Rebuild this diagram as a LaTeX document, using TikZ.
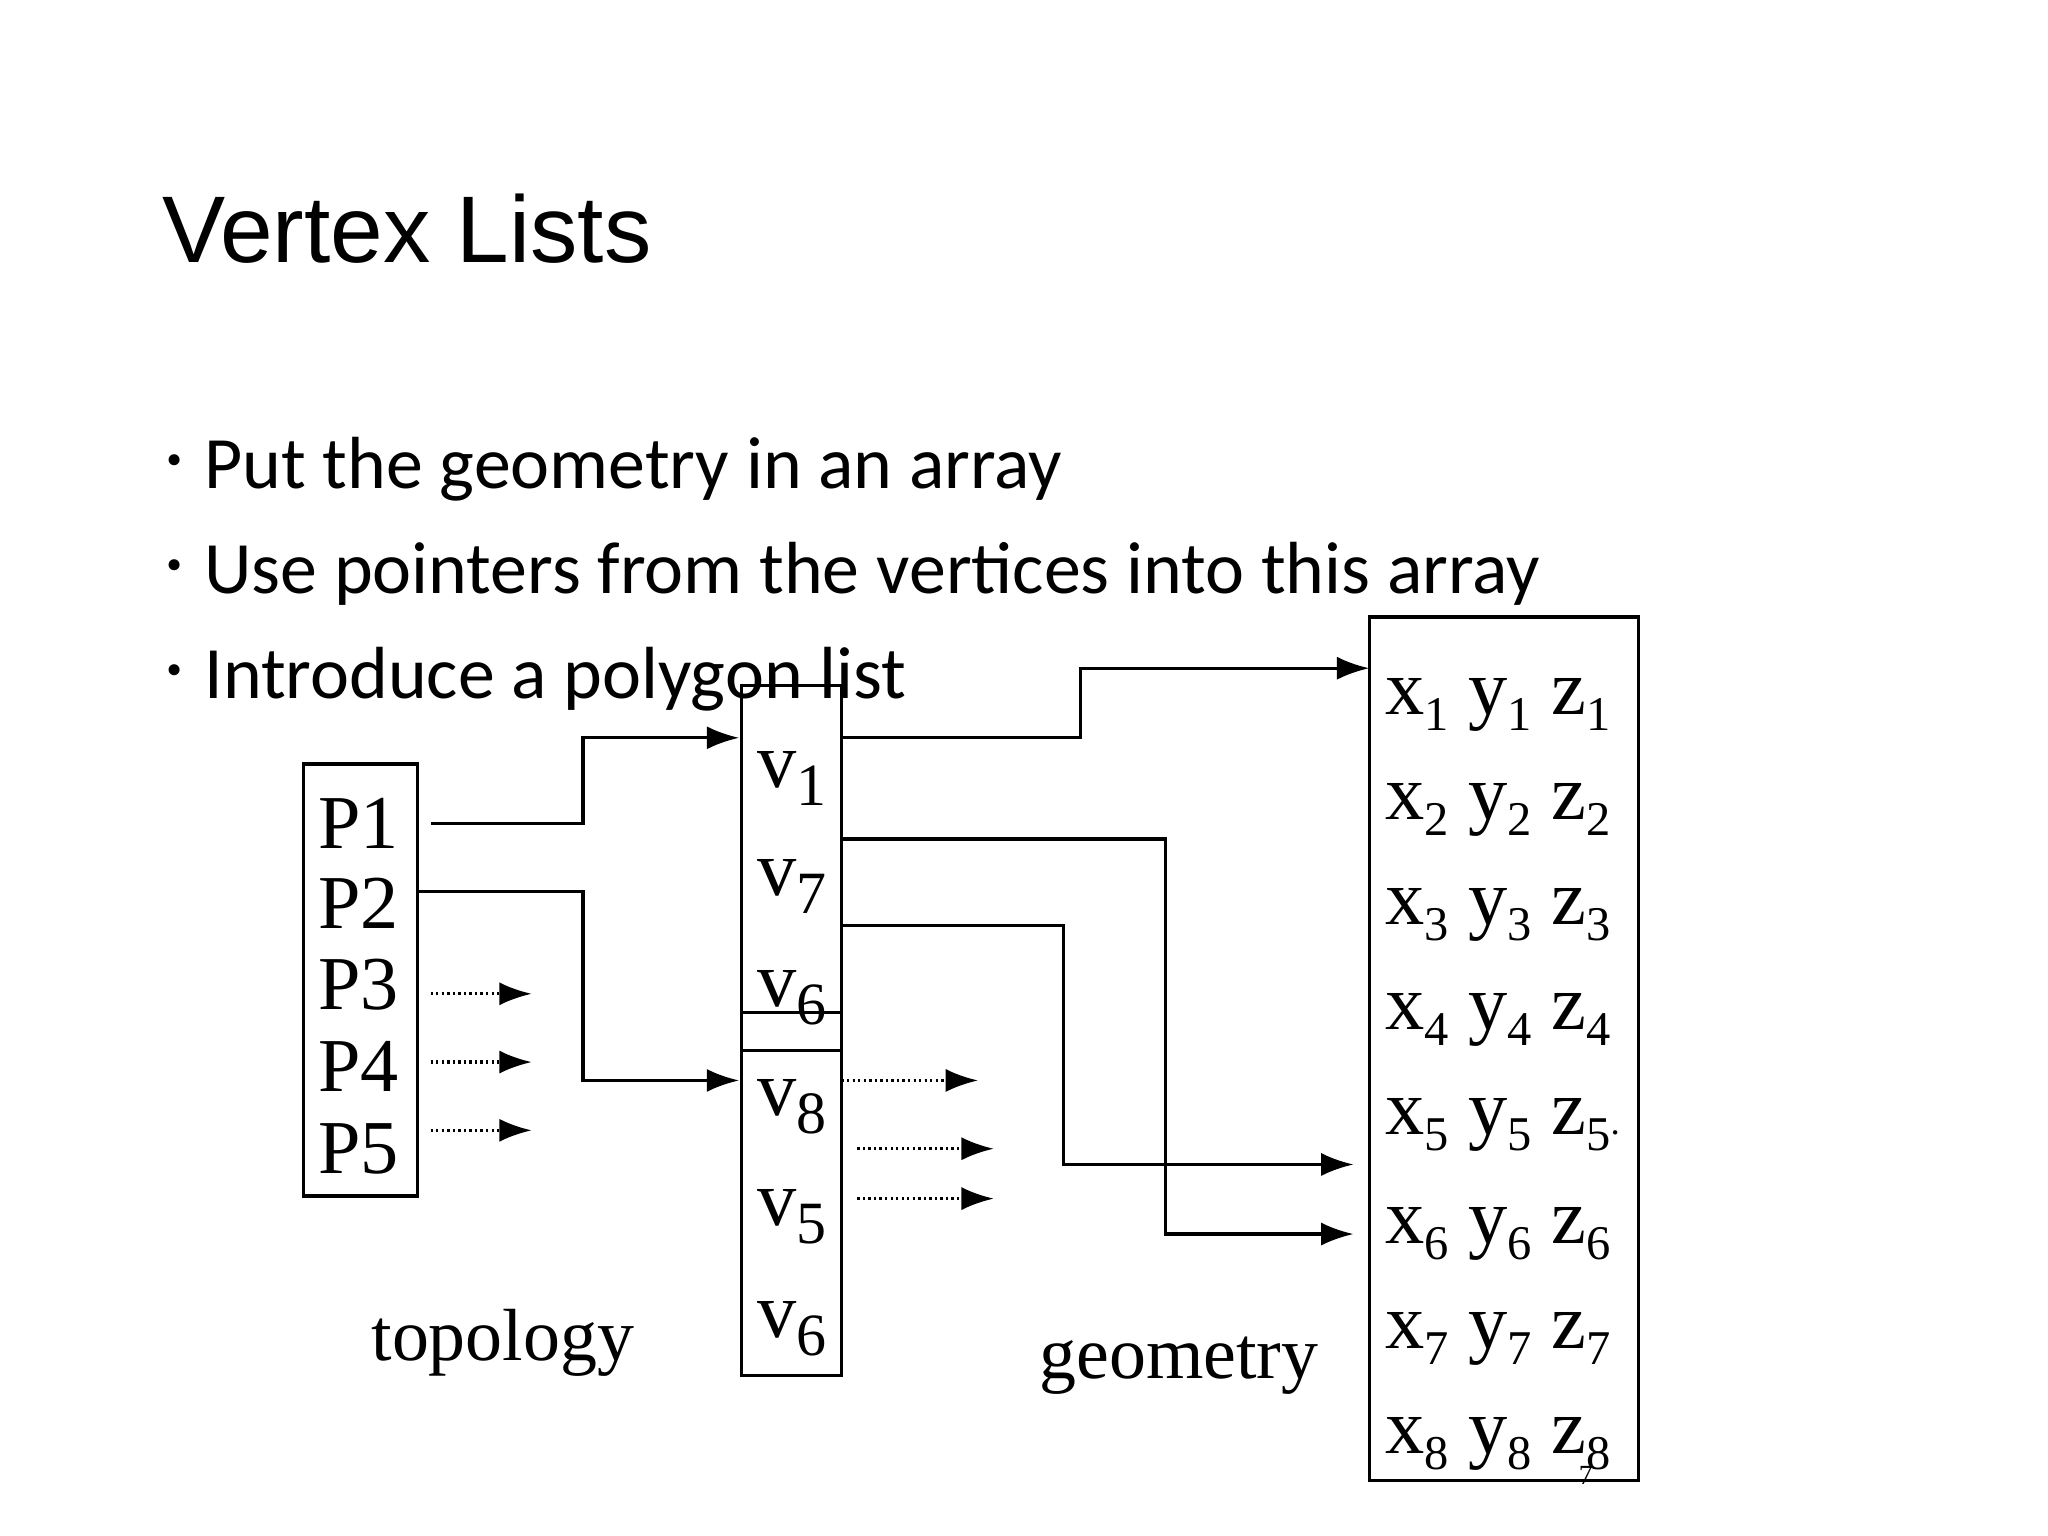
\documentclass[tikz,border=0pt]{standalone}
\usepackage{fontspec}
\setmainfont{Liberation Serif}
\newfontfamily\arialfam{Liberation Sans}
\newfontfamily\carlitofam{Carlito}
\newcommand{\sbx}[1]{\raisebox{-0.45ex}{\fontsize{10.5}{10.5}\selectfont #1}}
\usetikzlibrary{arrows.meta}
\begin{document}
\begin{tikzpicture}[x=0.01cm,y=-0.01cm,
  ser/.style={inner sep=0pt},
  xyz/.style={font=\fontsize{17}{17}\selectfont,inner sep=0pt,anchor=base},
  arr/.style={-{Latex[length=7pt,width=5pt]},line width=0.7pt},
  dot/.style={-{Latex[length=7pt,width=5pt]},dash pattern=on 0.5pt off 0.7pt,line width=0.7pt},
  bul/.style={font=\carlitofam\fontsize{16}{16}\selectfont,anchor=base west,inner sep=0pt}]
\useasboundingbox (0,0) rectangle (1560,1170);
\node[font=\arialfam\fontsize{20.5}{20.5}\selectfont,anchor=base west,inner sep=0pt] (title) at (123,200) {Vertex Lists};
\foreach \y/\t [count=\i] in {372/Put the geometry in an array,452/Use pointers from the vertices into this array,532/Introduce a polygon list}{
  \node[bul] (b\i) at (155,\y) {\t};
  \node[bul,font=\fontsize{10}{10}\selectfont] at (126,\y-10) {\textbullet};
}
% boxes
\draw[line width=0.7pt] (231,582) rectangle (318,911);
\draw[line width=0.7pt] (565,522) rectangle (641,1048);
\draw[line width=0.7pt] (565,771) -- (641,771) (565,800) -- (641,800);
\draw[line width=0.7pt] (1043,470) rectangle (1248,1128);
% P labels
\foreach \y/\t in {627/P1,688/P2,750/P3,812/P4,875/P5}
  \node[ser,font=\fontsize{16.5}{16}\selectfont] (\t) at (273,\y) {\t};
% v labels
\foreach \y/\n/\s in {593/va/1,675/vb/7,760/vc/6,843/vd/8,927/ve/5,1012/vf/6}
  \node[ser,font=\fontsize{17}{17}\selectfont] (\n) at (603,\y) {v\raisebox{-0.5ex}{\fontsize{13}{13}\selectfont\s}};
% xyz
\foreach \y/\s [count=\i] in {544/1,624/2,704/3,784/4,864/5,947/6,1027/7,1107/8}
  \node[xyz] (g\i) at (1141,\y) {x\sbx{\s} y\sbx{\s} z\sbx{\s}\ifnum\i=5\rlap{\fontsize{8}{8}\selectfont.}\fi};
\node[font=\fontsize{6}{6}\selectfont,inner sep=0pt] (pg) at (1208,1124) {7};
\node[ser,font=\fontsize{16}{16}\selectfont,anchor=base] (topo) at (383,1036) {topology};
\node[ser,font=\fontsize{16}{16}\selectfont,anchor=base] (geom) at (898,1050) {geometry};
% arrows
\draw[arr] (328,627) -- (444,627) -- (444,562) -- (563,562);
\draw[arr] (318,679) -- (444,679) -- (444,823) -- (563,823);
\foreach \y in {757,809,861} \draw[dot] (328,\y) -- (405,\y);
\draw[arr] (641,562) -- (823,562) -- (823,509) -- (1043,509);
\draw[arr] (641,639) -- (888,639) -- (888,940) -- (1031,940);
\draw[arr] (641,705) -- (810,705) -- (810,887) -- (1031,887);
\draw[dot] (641,823) -- (745,823);
\draw[dot] (653,875) -- (757,875);
\draw[dot] (653,913) -- (757,913);
\end{tikzpicture}
\end{document}
